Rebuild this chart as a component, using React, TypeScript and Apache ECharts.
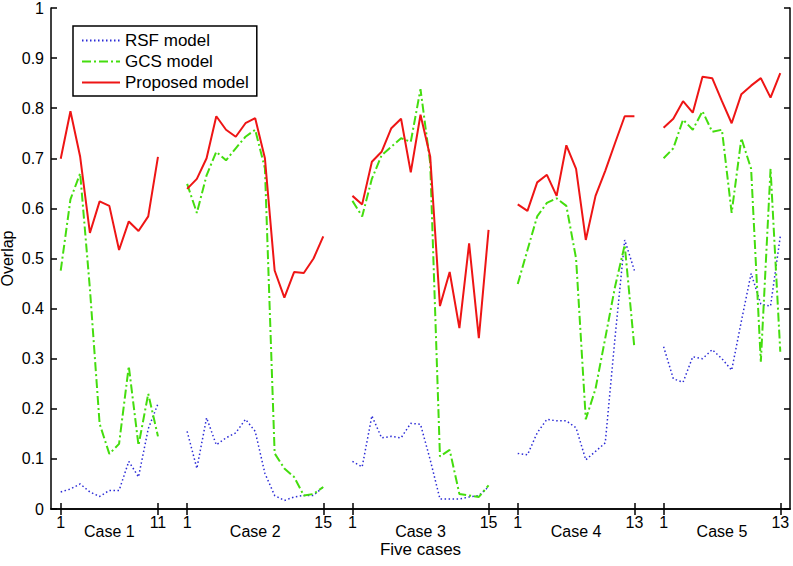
import React, { useEffect, useRef } from "react";
import * as echarts from "echarts";

// Case structure
const caseNames = ["Case 1", "Case 2", "Case 3", "Case 4", "Case 5"];
const caseLengths = [11, 15, 15, 13, 13];

// RSF model values per case
const rsf1 = [0.034, 0.04, 0.05, 0.034, 0.025, 0.037, 0.037, 0.095, 0.064, 0.16, 0.21];
const rsf2 = [0.155, 0.081, 0.182, 0.128, 0.142, 0.152, 0.179, 0.155, 0.071, 0.027, 0.017, 0.024, 0.027, 0.027, 0.044];
const rsf3 = [0.095, 0.084, 0.186, 0.142, 0.145, 0.142, 0.171, 0.169, 0.098, 0.02, 0.02, 0.02, 0.024, 0.027, 0.044];
const rsf4 = [0.111, 0.108, 0.152, 0.179, 0.176, 0.176, 0.162, 0.098, 0.115, 0.132, 0.341, 0.537, 0.476];
const rsf5 = [0.324, 0.26, 0.253, 0.304, 0.3, 0.318, 0.3, 0.277, 0.375, 0.47, 0.409, 0.405, 0.544];

// GCS model values per case
const gcs1 = [0.476, 0.618, 0.67, 0.44, 0.17, 0.11, 0.13, 0.285, 0.127, 0.23, 0.145];
const gcs2 = [0.649, 0.591, 0.666, 0.713, 0.696, 0.72, 0.743, 0.757, 0.68, 0.111, 0.081, 0.064, 0.027, 0.03, 0.044];
const gcs3 = [0.615, 0.584, 0.659, 0.706, 0.723, 0.74, 0.733, 0.838, 0.69, 0.105, 0.118, 0.03, 0.027, 0.024, 0.047];
const gcs4 = [0.449, 0.517, 0.584, 0.611, 0.62, 0.605, 0.5, 0.179, 0.24, 0.341, 0.443, 0.527, 0.321];
const gcs5 = [0.7, 0.72, 0.777, 0.757, 0.794, 0.753, 0.757, 0.591, 0.74, 0.679, 0.294, 0.679, 0.314];

// Proposed model values per case
const prop1 = [0.699, 0.794, 0.703, 0.551, 0.614, 0.605, 0.517, 0.574, 0.555, 0.584, 0.703];
const prop2 = [0.639, 0.659, 0.7, 0.784, 0.757, 0.743, 0.77, 0.78, 0.7, 0.476, 0.422, 0.473, 0.471, 0.5, 0.544];
const prop3 = [0.625, 0.608, 0.693, 0.713, 0.76, 0.779, 0.672, 0.787, 0.703, 0.405, 0.473, 0.361, 0.53, 0.341, 0.557];
const prop4 = [0.608, 0.595, 0.652, 0.667, 0.625, 0.726, 0.679, 0.537, 0.625, 0.675, 0.73, 0.784, 0.784];
const prop5 = [0.761, 0.779, 0.814, 0.791, 0.863, 0.86, 0.814, 0.77, 0.828, 0.845, 0.86, 0.821, 0.87];

const seriesNames = ["RSF model", "GCS model", "Proposed model"];
const seriesColors = ["#2b2bd6", "#44dd0e", "#ee1515"];

// empty slots on the shared x axis: before, between, after the cases
const leadSlots = 1;
const gapSlots = 2;
const tailSlots = 1;

type Slot = { key: string; caseIdx: number; n: number };
const slots: Slot[] = [];
for (let i = 0; i < leadSlots; i++) slots.push({ key: `lead${i}`, caseIdx: -1, n: 0 });
caseLengths.forEach((len, ci) => {
  for (let n = 1; n <= len; n++) slots.push({ key: `c${ci}_${n}`, caseIdx: ci, n });
  const extra = ci < caseLengths.length - 1 ? gapSlots : tailSlots;
  for (let g = 0; g < extra; g++) slots.push({ key: `g${ci}_${g}`, caseIdx: -1, n: 0 });
});
const categories = slots.map((s) => s.key);

function spread(parts: number[][]): (number | null)[] {
  const out: (number | null)[] = [];
  for (let i = 0; i < leadSlots; i++) out.push(null);
  parts.forEach((p, ci) => {
    p.forEach((v) => out.push(v));
    const extra = ci < parts.length - 1 ? gapSlots : tailSlots;
    for (let g = 0; g < extra; g++) out.push(null);
  });
  return out;
}

const rsfData = spread([rsf1, rsf2, rsf3, rsf4, rsf5]);
const gcsData = spread([gcs1, gcs2, gcs3, gcs4, gcs5]);
const propData = spread([prop1, prop2, prop3, prop4, prop5]);

const isEdge = (i: number) => {
  const s = slots[i];
  return !!s && s.caseIdx >= 0 && (s.n === 1 || s.n === caseLengths[s.caseIdx]);
};
const isMid = (i: number) => {
  const s = slots[i];
  return !!s && s.caseIdx >= 0 && s.n === Math.ceil(caseLengths[s.caseIdx] / 2);
};

const FONT = "'Liberation Sans', Arial, Helvetica, sans-serif";

export default function App() {
  const ref = useRef<HTMLDivElement>(null);
  useEffect(() => {
    if (!ref.current) return;
    const chart = echarts.init(ref.current, null, { renderer: "svg" });
    const axisLine = { show: true, lineStyle: { color: "#000", width: 1.5 } };
    const tickStyle = { color: "#000", width: 1.5 };
    chart.setOption({
      animation: false,
      backgroundColor: "#fff",
      textStyle: { fontFamily: FONT },
      grid: { left: 51, right: 3, top: 8, bottom: 57, containLabel: false, outerBoundsMode: "none" },
      legend: {
        show: true,
        orient: "vertical",
        left: 73,
        top: 26,
        data: seriesNames,
        itemWidth: 38,
        itemHeight: 14,
        itemGap: 4,
        padding: [6, 8, 5, 8],
        borderColor: "#000",
        borderWidth: 1.5,
        backgroundColor: "#fff",
        itemStyle: { opacity: 0 },
        textStyle: { fontSize: 17, color: "#000", fontFamily: FONT },
      },
      xAxis: [
        {
          type: "category",
          data: categories,
          boundaryGap: false,
          position: "bottom",
          axisLine,
          axisTick: { show: true, inside: true, length: 6, interval: (i: number) => isEdge(i), lineStyle: tickStyle },
          axisLabel: {
            show: true,
            interval: (i: number) => isEdge(i),
            formatter: (_v: string, i: number) => String(slots[i].n),
            fontSize: 16,
            color: "#000",
            margin: 5,
            fontFamily: FONT,
          },
          splitLine: { show: false },
          name: "Five cases",
          nameLocation: "middle",
          nameGap: 32,
          nameMoveOverlap: false,
          nameTextStyle: { fontSize: 17, color: "#000", fontFamily: FONT },
        },
        {
          type: "category",
          data: categories,
          boundaryGap: false,
          position: "top",
          axisLine,
          axisTick: { show: true, inside: true, length: 6, interval: (i: number) => isEdge(i), lineStyle: tickStyle },
          axisLabel: { show: false },
          splitLine: { show: false },
        },
        {
          type: "category",
          data: categories,
          boundaryGap: false,
          position: "bottom",
          axisLine: { show: false },
          axisTick: { show: false },
          axisLabel: {
            show: true,
            interval: (i: number) => isMid(i),
            formatter: (_v: string, i: number) => caseNames[slots[i].caseIdx],
            fontSize: 16,
            color: "#000",
            margin: 14,
            fontFamily: FONT,
          },
          splitLine: { show: false },
        },
      ],
      yAxis: [
        {
          type: "value",
          min: 0,
          max: 1,
          interval: 0.1,
          position: "left",
          axisLine,
          axisTick: { show: true, inside: true, length: 6, lineStyle: tickStyle },
          axisLabel: { fontSize: 16, color: "#000", margin: 7, fontFamily: FONT },
          splitLine: { show: false },
          name: "Overlap",
          nameLocation: "middle",
          nameGap: 36,
          nameMoveOverlap: false,
          nameTextStyle: { fontSize: 16, color: "#000", fontFamily: FONT },
        },
        {
          type: "value",
          min: 0,
          max: 1,
          interval: 0.1,
          position: "right",
          axisLine,
          axisTick: { show: true, inside: true, length: 6, lineStyle: tickStyle },
          axisLabel: { show: false },
          splitLine: { show: false },
        },
      ],
      series: [
        {
          name: seriesNames[0],
          type: "line",
          data: rsfData,
          symbol: "none",
          connectNulls: false,
          color: seriesColors[0],
          lineStyle: { color: seriesColors[0], width: 1.5, type: [1.5, 2.5] },
        },
        {
          name: seriesNames[1],
          type: "line",
          data: gcsData,
          symbol: "none",
          connectNulls: false,
          color: seriesColors[1],
          lineStyle: { color: seriesColors[1], width: 2, type: [9, 3, 2, 3] },
        },
        {
          name: seriesNames[2],
          type: "line",
          data: propData,
          symbol: "none",
          connectNulls: false,
          color: seriesColors[2],
          lineStyle: { color: seriesColors[2], width: 2 },
        },
      ],
    });
    return () => chart.dispose();
  }, []);
  return <div ref={ref} style={{ width: 793, height: 566, position: "absolute", left: 0, top: 0 }} />;
}
